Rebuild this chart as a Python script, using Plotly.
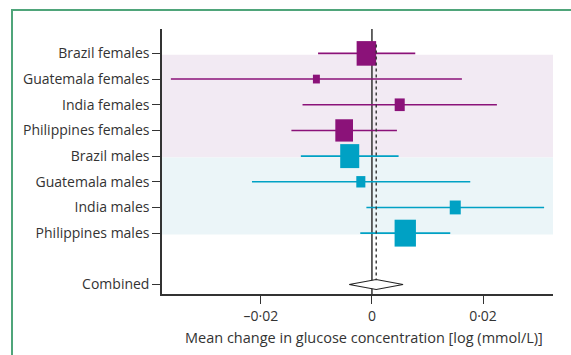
import math
import plotly.graph_objects as go

# ---- data ----
groups = ["Brazil females", "Guatemala females", "India females", "Philippines females",
          "Brazil males", "Guatemala males", "India males", "Philippines males"]
sex = ["F", "F", "F", "F", "M", "M", "M", "M"]
estimate = [-0.001, -0.010, 0.005, -0.005, -0.004, -0.002, 0.015, 0.006]
ci_low = [-0.0097, -0.0362, -0.0125, -0.0145, -0.0128, -0.0216, -0.0010, -0.0021]
ci_high = [0.0078, 0.0162, 0.0225, 0.0045, 0.0048, 0.0177, 0.0310, 0.0141]
weights = [20.4, 2.6, 5.4, 16.8, 19.4, 4.4, 6.5, 24.4]
combined_label = "Combined"
combined_est = 0.00077
combined_low = -0.0041
combined_high = 0.0056
tick_vals = [-0.02, 0, 0.02]
tick_text = ["\u20130\u00b702", "0", "0\u00b702"]
x_title = "Mean change in glucose concentration [log (mmol/L)]"

# ---- layout constants ----
W, H = 571, 355
ML, MR, MT, MB = 162, 18, 29, 61
XR = [-0.0378, 0.0326]
YR = [9.37, -0.95]
PW = W - ML - MR
PH = H - MT - MB
px_x = PW / (XR[1] - XR[0])
px_y = PH / (YR[0] - YR[1])

PURPLE = "#8b1279"
TEAL = "#00a1c4"
DARK = "#333333"
FONT = "Open Sans"

rows = list(range(len(groups)))
combined_row = len(groups) + 1
colors = {"F": PURPLE, "M": TEAL}

fig = go.Figure()

shapes = []
# background bands
f_rows = [r for r, s in zip(rows, sex) if s == "F"]
m_rows = [r for r, s in zip(rows, sex) if s == "M"]
shapes.append(dict(type="rect", xref="paper", yref="y", x0=0, x1=1,
                   y0=min(f_rows) + 0.05, y1=max(f_rows) + 1.05,
                   fillcolor="#f2eaf3", line=dict(width=0), layer="below"))
shapes.append(dict(type="rect", xref="paper", yref="y", x0=0, x1=1,
                   y0=max(f_rows) + 1.05, y1=max(m_rows) + 0.05,
                   fillcolor="#ebf5f8", line=dict(width=0), layer="below"))
# zero line
shapes.append(dict(type="line", xref="x", yref="paper", x0=0, x1=0, y0=0, y1=1,
                   line=dict(color=DARK, width=1.5), layer="below"))

# CI lines
for s in ["F", "M"]:
    xs, ys = [], []
    for r, ss, lo, hi in zip(rows, sex, ci_low, ci_high):
        if ss == s:
            xs += [lo, hi, None]
            ys += [r, r, None]
    fig.add_trace(go.Scatter(x=xs, y=ys, mode="lines",
                             line=dict(color=colors[s], width=1.6),
                             showlegend=False, hoverinfo="skip"))

# weight boxes
for r, s, e, w in zip(rows, sex, estimate, weights):
    wpx = 4.32 * math.sqrt(w)
    hpx = 1.26 * wpx
    hw = wpx / 2 / px_x
    hh = hpx / 2 / px_y
    shapes.append(dict(type="rect", xref="x", yref="y", x0=e - hw, x1=e + hw,
                       y0=r - hh, y1=r + hh, fillcolor=colors[s],
                       line=dict(width=0), layer="above"))

# combined diamond
dh = 5 / px_y
fig.add_trace(go.Scatter(
    x=[combined_low, combined_est, combined_high, combined_est, combined_low],
    y=[combined_row, combined_row - dh, combined_row, combined_row + dh, combined_row],
    mode="lines", fill="toself", fillcolor="white",
    line=dict(color="#222222", width=1.2), showlegend=False, hoverinfo="skip"))

# dotted line at combined estimate
shapes.append(dict(type="line", xref="x", yref="y", x0=combined_est, x1=combined_est,
                   y0=-0.35, y1=combined_row - dh,
                   line=dict(color=DARK, width=1.4, dash="dot"), layer="above"))

# outer green frame
shapes.append(dict(type="rect", xref="paper", yref="paper",
                   x0=(12 - ML) / PW, x1=(W + 10 - ML) / PW,
                   y0=-(H + 10 - (H - MB)) / PH, y1=1 + (MT - 10) / PH,
                   line=dict(color="#4fa57a", width=2), fillcolor="rgba(0,0,0,0)",
                   layer="below"))

fig.update_layout(
    width=W, height=H,
    margin=dict(l=ML, r=MR, t=MT, b=MB),
    paper_bgcolor="white", plot_bgcolor="white",
    font=dict(family=FONT, size=14, color=DARK),
    shapes=shapes,
    showlegend=False,
    annotations=[dict(text=x_title, xref="paper", yref="paper",
                      x=(364 - ML) / PW, y=-(337 - (H - MB)) / PH,
                      xanchor="center", yanchor="middle", showarrow=False,
                      font=dict(family=FONT, size=14.5, color=DARK))],
)
fig.update_xaxes(range=XR, tickvals=tick_vals, ticktext=tick_text,
                 showgrid=False, zeroline=False, showline=True,
                 linecolor=DARK, linewidth=1.5, ticks="outside", ticklen=8,
                 tickwidth=1.2, tickcolor=DARK)
fig.update_yaxes(range=YR, tickvals=rows + [combined_row],
                 ticktext=groups + [combined_label],
                 showgrid=False, zeroline=False, showline=True,
                 linecolor=DARK, linewidth=1.5, ticks="outside", ticklen=8,
                 tickwidth=1.2, tickcolor=DARK)

fig.write_html("out.html")
